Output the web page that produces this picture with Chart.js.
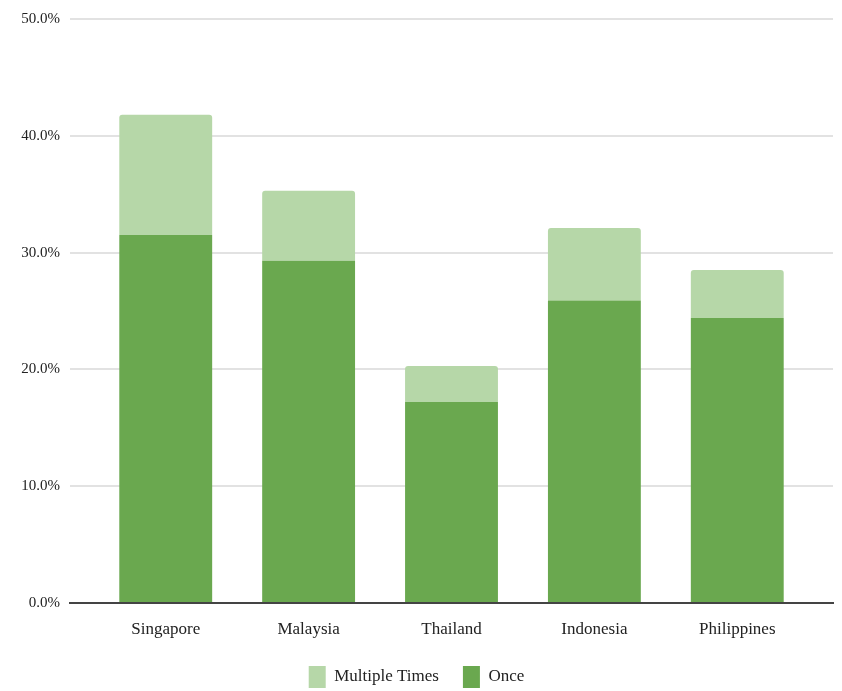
<!DOCTYPE html>
<html>
<head>
<meta charset="utf-8">
<script src="https://cdn.jsdelivr.net/npm/chart.js@4"></script>
<style>
  html, body { margin: 0; padding: 0; background: #fff; }
  #wrap { width: 842px; height: 691px; }
</style>
</head>
<body>
<div id="wrap"><canvas id="c" width="842" height="691"></canvas></div>
<script>
// Countries on the x axis
const categories = ['Singapore', 'Malaysia', 'Thailand', 'Indonesia', 'Philippines'];
// Share answering "Once" (bottom of each stack), percent
const onceValues = [31.5, 29.3, 17.2, 25.9, 24.4];
// Additional share answering "Multiple Times" (stacked on top), percent
const multipleValues = [10.3, 6.0, 3.1, 6.2, 4.1];
// Y axis tick values, percent
const yTicks = [0, 10, 20, 30, 40, 50];

const serif = '"Liberation Serif", "DejaVu Serif", serif';

const toPoints = arr => arr.map((v, i) => ({ x: i, y: v }));

new Chart(document.getElementById('c'), {
  type: 'bar',
  data: {
    datasets: [
      {
        label: 'Once',
        data: toPoints(onceValues),
        backgroundColor: '#6aa84f',
        barPercentage: 0.65,
        categoryPercentage: 1
      },
      {
        label: 'Multiple Times',
        data: toPoints(multipleValues),
        backgroundColor: '#b6d7a8',
        borderRadius: { topLeft: 3, topRight: 3 },
        borderSkipped: 'bottom',
        barPercentage: 0.65,
        categoryPercentage: 1
      }
    ]
  },
  options: {
    responsive: false,
    animation: false,
    layout: { padding: { top: 8, right: 9, left: 0, bottom: -7 } },
    plugins: {
      tooltip: { enabled: false },
      legend: {
        position: 'bottom',
        reverse: true,
        labels: {
          boxWidth: 17,
          boxHeight: 22,
          padding: 24,
          color: '#222',
          font: { family: serif, size: 17 }
        }
      }
    },
    scales: {
      x: {
        type: 'linear',
        stacked: true,
        min: -0.67,
        max: 4.67,
        offset: false,
        afterBuildTicks: s => { s.ticks = categories.map((_, i) => ({ value: i })); },
        afterFit: s => { s.height = 39; },
        grid: { display: false, drawTicks: false },
        border: { display: true, color: '#444', width: 2 },
        ticks: {
          autoSkip: false,
          maxRotation: 0,
          padding: 16,
          color: '#222',
          font: { family: serif, size: 17 },
          callback: v => categories[v] ?? ''
        }
      },
      y: {
        stacked: true,
        min: 0,
        max: 50,
        afterBuildTicks: s => { s.ticks = yTicks.map(v => ({ value: v })); },
        afterFit: s => { s.width = 70; },
        grid: { color: '#e2e2e2', lineWidth: 2, drawTicks: false },
        border: { display: false },
        ticks: {
          padding: 10,
          color: '#222',
          font: { family: serif, size: 15 },
          callback: v => v.toFixed(1) + '%'
        }
      }
    }
  }
});
</script>
</body>
</html>
